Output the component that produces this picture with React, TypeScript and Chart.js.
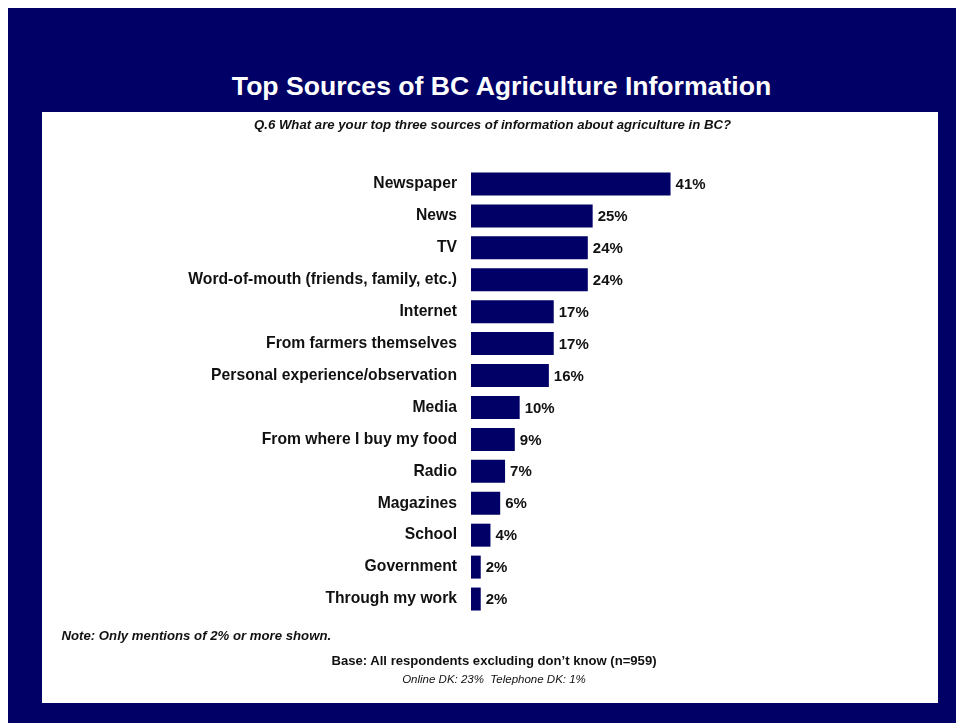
import React, { useEffect, useRef } from "react";
import { Chart, registerables } from "chart.js";

Chart.register(...registerables);

const categories = [
  "Newspaper",
  "News",
  "TV",
  "Word-of-mouth (friends, family, etc.)",
  "Internet",
  "From farmers themselves",
  "Personal experience/observation",
  "Media",
  "From where I buy my food",
  "Radio",
  "Magazines",
  "School",
  "Government",
  "Through my work",
];
const values = [41, 25, 24, 24, 17, 17, 16, 10, 9, 7, 6, 4, 2, 2];

const NAVY = "#000066";
const FONT = '"Liberation Sans", Arial, Helvetica, sans-serif';

export default function App() {
  const ref = useRef<HTMLCanvasElement>(null);
  useEffect(() => {
    if (!ref.current) return;
    const labelPlugin = {
      id: "valueLabels",
      afterDatasetsDraw(chart: any) {
        const ctx = chart.ctx;
        const meta = chart.getDatasetMeta(0);
        ctx.save();
        ctx.fillStyle = "#111111";
        ctx.font = `bold 15px ${FONT}`;
        ctx.textAlign = "left";
        ctx.textBaseline = "middle";
        meta.data.forEach((bar: any, i: number) => {
          ctx.fillText(values[i] + "%", bar.x + 5, bar.y + 1);
        });
        ctx.restore();
      },
    };
    const chart = new Chart(ref.current, {
      type: "bar",
      data: {
        labels: categories,
        datasets: [
          {
            data: values,
            backgroundColor: NAVY,
            borderWidth: 0,
            barPercentage: 0.72,
            categoryPercentage: 1,
          },
        ],
      },
      options: {
        indexAxis: "y",
        responsive: false,
        maintainAspectRatio: false,
        animation: false,
        layout: { padding: { top: 56, bottom: 88, left: 0, right: 248 } },
        plugins: { legend: { display: false }, tooltip: { enabled: false } },
        scales: {
          x: { display: false, min: 0, max: 45 },
          y: {
            grid: { display: false, drawTicks: false },
            border: { display: false },
            ticks: {
              color: "#111111",
              padding: 14,
              font: { family: FONT, size: 15.7, weight: "bold" },
            },
            afterFit(s: any) {
              s.width = 429;
            },
          },
        },
      },
      plugins: [labelPlugin],
    } as any);
    return () => chart.destroy();
  }, []);

  return (
    <div
      style={{
        position: "absolute",
        left: 8,
        top: 8,
        width: 948,
        height: 715,
        background: NAVY,
        fontFamily: FONT,
      }}
    >
      <div
        style={{
          position: "absolute",
          left: 93.5,
          width: 800,
          top: 63,
          height: 30,
          lineHeight: "30px",
          textAlign: "center",
          color: "#ffffff",
          fontWeight: "bold",
          fontSize: 26.6,
        }}
      >
        Top Sources of BC Agriculture Information
      </div>
      <div
        style={{
          position: "absolute",
          left: 34,
          top: 104,
          width: 896,
          height: 591,
          background: "#ffffff",
        }}
      >
        <canvas
          ref={ref}
          width={896}
          height={591}
          style={{ position: "absolute", left: 0, top: 0, width: 896, height: 591 }}
        />
        <div
          style={{
            position: "absolute",
            left: 2.5,
            width: 896,
            top: 5,
            height: 16,
            lineHeight: "16px",
            textAlign: "center",
            fontWeight: "bold",
            fontStyle: "italic",
            fontSize: 13.2,
            color: "#111111",
          }}
        >
          Q.6 What are your top three sources of information about agriculture in BC?
        </div>
        <div
          style={{
            position: "absolute",
            left: 19.5,
            top: 516,
            height: 16,
            lineHeight: "16px",
            fontWeight: "bold",
            fontStyle: "italic",
            fontSize: 13.2,
            color: "#111111",
            whiteSpace: "nowrap",
          }}
        >
          Note: Only mentions of 2% or more shown.
        </div>
        <div
          style={{
            position: "absolute",
            left: 4,
            width: 896,
            top: 541,
            height: 16,
            lineHeight: "16px",
            textAlign: "center",
            fontWeight: "bold",
            fontSize: 13.1,
            color: "#111111",
          }}
        >
          Base: All respondents excluding don’t know (n=959)
        </div>
        <div
          style={{
            position: "absolute",
            left: 4,
            width: 896,
            top: 559,
            height: 16,
            lineHeight: "16px",
            textAlign: "center",
            fontStyle: "italic",
            fontSize: 11.5,
            color: "#111111",
          }}
        >
          Online DK: 23%&nbsp;&nbsp;Telephone DK: 1%
        </div>
      </div>
    </div>
  );
}
